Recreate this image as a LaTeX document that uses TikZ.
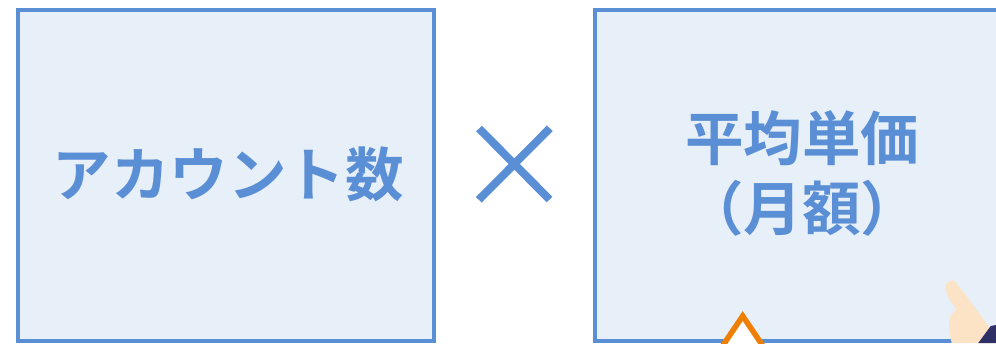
\documentclass[tikz,border=0pt]{standalone}
\usepackage{fontspec}
\newfontfamily\jpbold{Noto Sans CJK JP Bold}
\definecolor{boxblue}{HTML}{5A8FD5}
\definecolor{boxfill}{HTML}{E7EFF9}
\definecolor{tipline}{HTML}{EE7F00}
\definecolor{skin}{HTML}{FDE3C6}
\definecolor{sleeve}{HTML}{2F3066}
\begin{document}
\begin{tikzpicture}[x=1pt,y=-1pt,
  termbox/.style={draw=boxblue,fill=boxfill,line width=4pt},
  termtext/.style={text=boxblue,font=\jpbold\fontsize{58.5}{70}\selectfont,inner sep=0pt,align=center}]
\useasboundingbox (0,0) rectangle (996,343);
\begin{scope}
\clip (0,0) rectangle (996,343);
% the two factor boxes
\draw[termbox] (18,9.5) rectangle (434,341);
\draw[termbox] (595,9.5) rectangle (1020,341);
\node[termtext] (accounts) at (228,174) {アカウント数};
\node[termtext] (price) at (802,173) {平均単価\\（月額）};
% multiplication sign
\coordinate (m1) at (479,128.5);
\coordinate (m2) at (549.5,199.5);
\coordinate (m3) at (549.8,128.3);
\coordinate (m4) at (478.8,199.8);
\draw[boxblue,line width=8pt] (m1) -- (m2);
\draw[boxblue,line width=8pt] (m3) -- (m4);
% orange pointer triangle
\draw[tipline,fill=white,line width=5.5pt,miter limit=10] (707,369) -- (742.7,316) -- (778.4,369);
% pointing hand
\fill[skin] (950.7,280.7) .. controls (946,282) and (944.5,286) .. (945.7,290)
  .. controls (948,298) and (952,304) .. (956.7,309.3)
  .. controls (951,314) and (948.5,318) .. (949,323.3)
  .. controls (949,330) and (950,336) .. (951.7,343)
  -- (990,343) -- (990,328)
  .. controls (978,312) and (966,295) .. (955,281.7)
  .. controls (953.5,280.5) and (952,280.3) .. (950.7,280.7) -- cycle;
\fill[sleeve] (978.3,343) -- (990.7,326) -- (996,325) -- (996,343) -- cycle;
\end{scope}
\end{tikzpicture}
\end{document}
